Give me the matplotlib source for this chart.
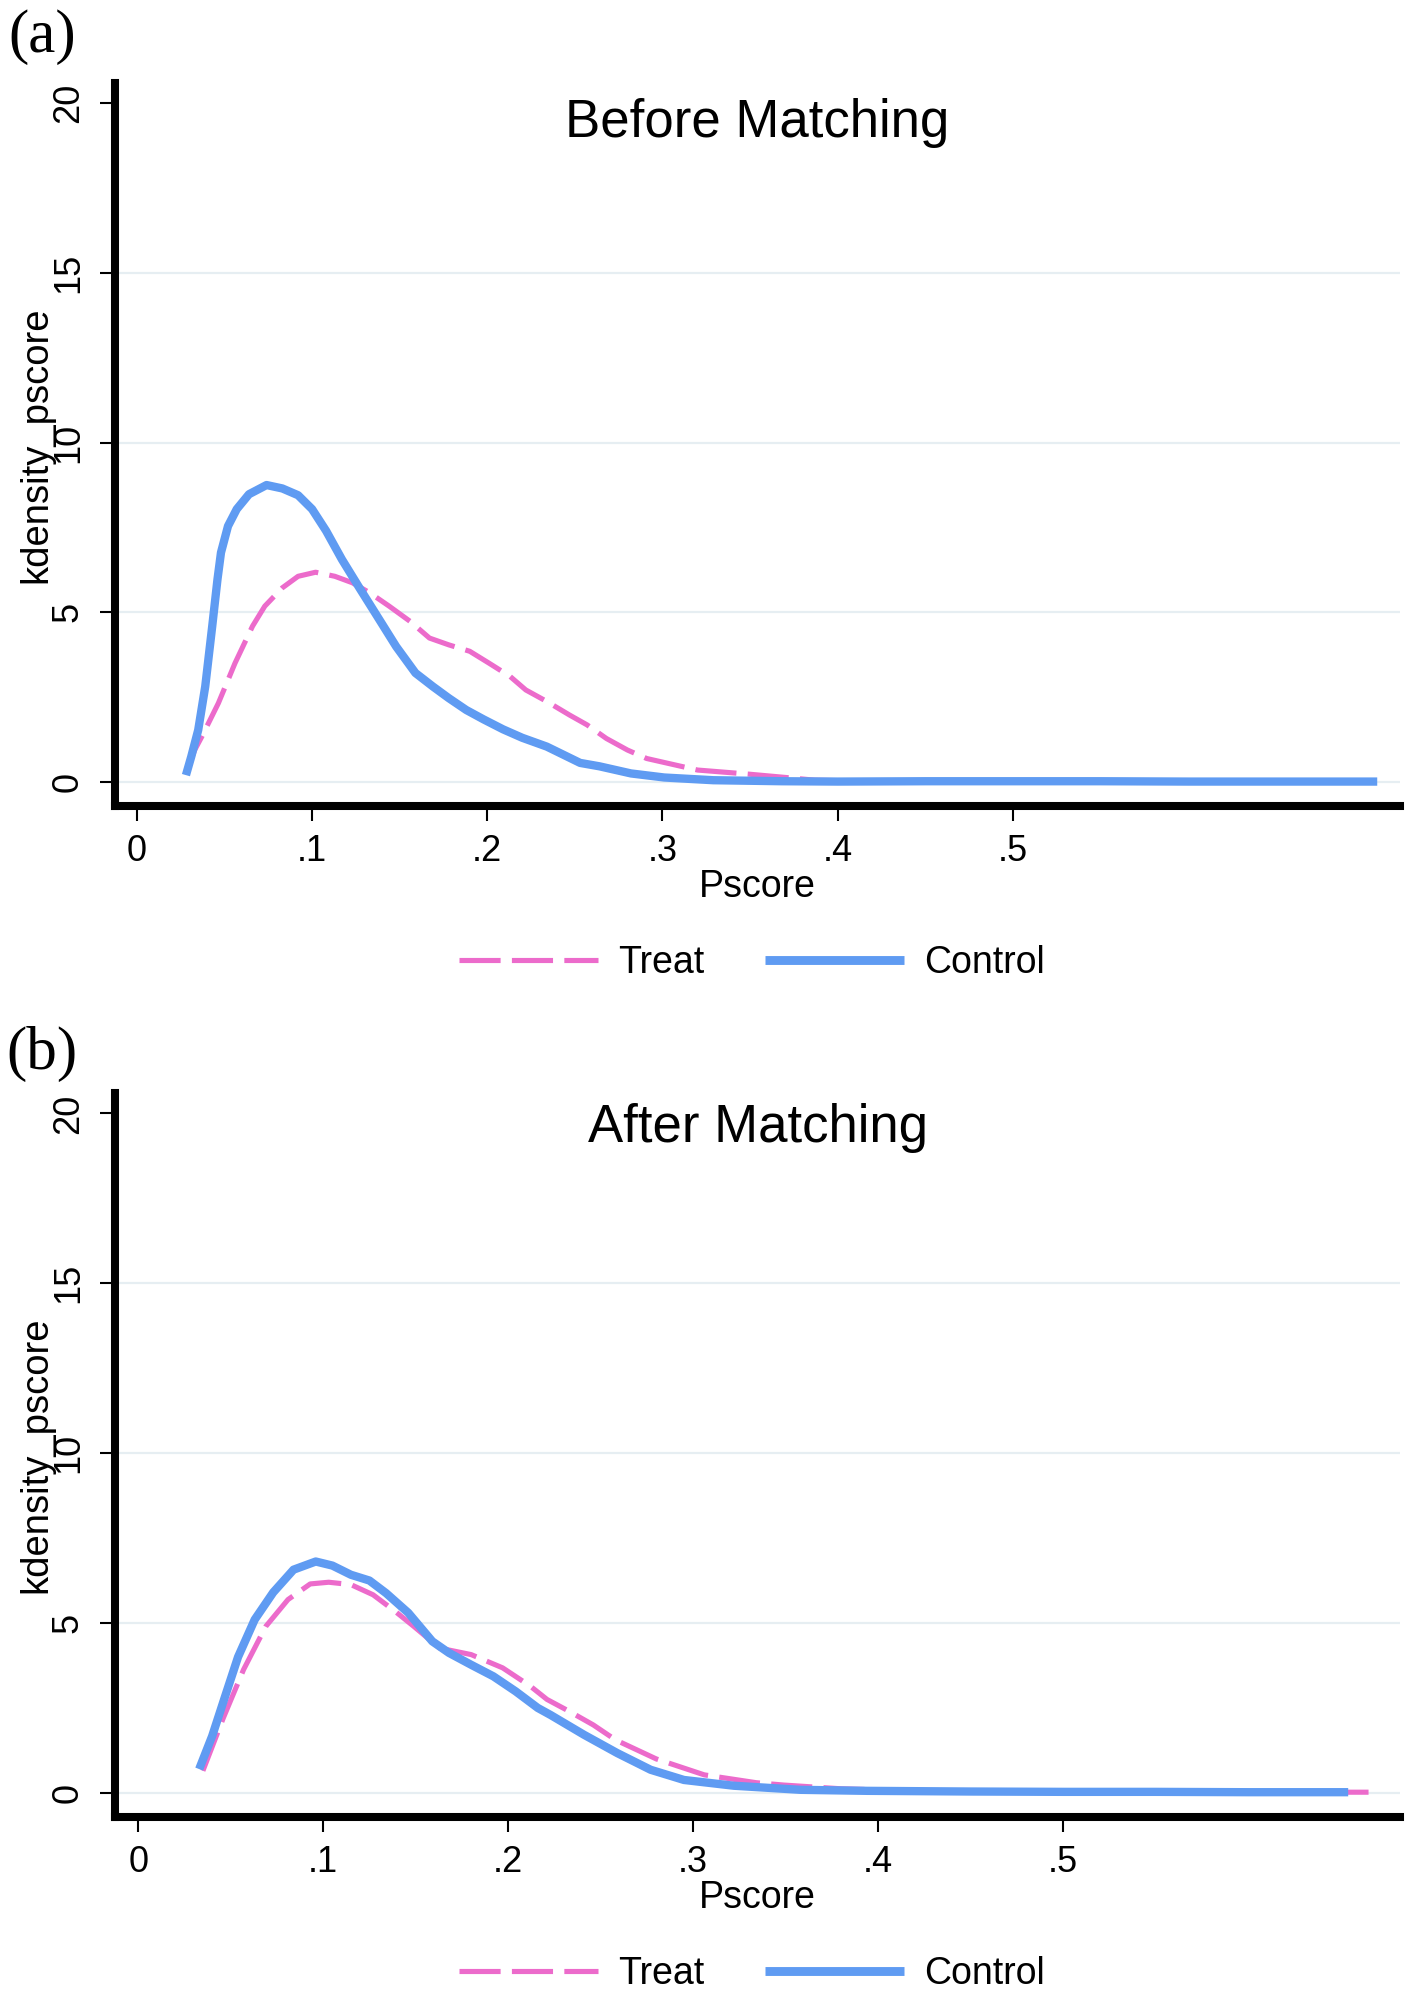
import matplotlib
matplotlib.use("Agg")
import matplotlib.pyplot as plt
from matplotlib.lines import Line2D

plt.rcParams["font.family"] = ["Liberation Sans", "DejaVu Sans"]

# --- data ----------------------------------------------------------------
# (a) before matching
before_ctrl_x = [0.028, 0.031, 0.035, 0.039, 0.043, 0.046, 0.048, 0.052, 0.057, 0.064,
                 0.074, 0.083, 0.092, 0.100, 0.108, 0.117, 0.127, 0.136, 0.148, 0.159,
                 0.169, 0.178, 0.188, 0.198, 0.209, 0.220, 0.234, 0.253, 0.264, 0.282,
                 0.301, 0.329, 0.368, 0.40, 0.45, 0.50, 0.55, 0.60, 0.65, 0.708]
before_ctrl_y = [0.20, 0.74, 1.53, 2.81, 4.59, 5.97, 6.76, 7.54, 8.04, 8.48,
                 8.75, 8.65, 8.45, 8.04, 7.40, 6.56, 5.72, 4.98, 3.99, 3.21,
                 2.81, 2.47, 2.12, 1.84, 1.55, 1.30, 1.04, 0.56, 0.46, 0.25,
                 0.13, 0.05, 0.02, 0.01, 0.02, 0.02, 0.02, 0.01, 0.01, 0.01]
before_treat_x = [0.028, 0.033, 0.037, 0.0465, 0.056, 0.066, 0.073, 0.083, 0.092, 0.102,
                  0.113, 0.123, 0.133, 0.144, 0.156, 0.167, 0.178, 0.190, 0.201, 0.213,
                  0.222, 0.234, 0.247, 0.257, 0.268, 0.280, 0.291, 0.320, 0.349, 0.377,
                  0.387, 0.42, 0.50, 0.60, 0.705]
before_treat_y = [0.25, 0.94, 1.33, 2.32, 3.50, 4.59, 5.18, 5.72, 6.06, 6.18,
                  6.06, 5.87, 5.57, 5.18, 4.73, 4.24, 4.04, 3.85, 3.50, 3.11,
                  2.71, 2.37, 1.97, 1.68, 1.28, 0.94, 0.69, 0.35, 0.23, 0.10,
                  0.05, 0.02, 0.01, 0.01, 0.01]

# (b) after matching
after_ctrl_x = [0.033, 0.040, 0.047, 0.054, 0.063, 0.073, 0.084, 0.096, 0.105, 0.115,
                0.125, 0.134, 0.146, 0.159, 0.168, 0.180, 0.192, 0.204, 0.216, 0.223,
                0.241, 0.259, 0.277, 0.295, 0.322, 0.358, 0.394, 0.45, 0.50, 0.55,
                0.60, 0.654]
after_ctrl_y = [0.70, 1.67, 2.84, 4.00, 5.10, 5.90, 6.57, 6.81, 6.69, 6.42,
                6.25, 5.88, 5.30, 4.46, 4.12, 3.77, 3.43, 2.99, 2.50, 2.29,
                1.71, 1.17, 0.68, 0.38, 0.21, 0.09, 0.06, 0.04, 0.03, 0.03,
                0.02, 0.02]
after_treat_x = [0.035, 0.046, 0.057, 0.069, 0.081, 0.093, 0.103, 0.115, 0.127, 0.139,
                 0.149, 0.163, 0.180, 0.197, 0.212, 0.221, 0.233, 0.246, 0.258, 0.280,
                 0.306, 0.334, 0.349, 0.38, 0.42, 0.50, 0.60, 0.665]
after_treat_y = [0.65, 2.20, 3.63, 4.90, 5.69, 6.15, 6.20, 6.13, 5.83, 5.34,
                 4.90, 4.26, 4.07, 3.68, 3.14, 2.75, 2.40, 2.00, 1.56, 1.00,
                 0.53, 0.30, 0.23, 0.12, 0.06, 0.03, 0.02, 0.02]

x_ticks = [0, 0.1, 0.2, 0.3, 0.4, 0.5]
x_ticklabels = ["0", ".1", ".2", ".3", ".4", ".5"]
y_ticks = [0, 5, 10, 15, 20]
y_ticklabels = ["0", "5", "10", "15", "20"]
grid_levels = [0, 5, 10, 15]

BLUE = "#5F9BF2"
PINK = "#EC6BCB"
GRID = "#E6EEF2"

W, H = 1417, 1997
fig = plt.figure(figsize=(W / 100, H / 100), dpi=100)


def fx(px):
    return px / W


def fy(py):
    return 1 - py / H


def panel(top_px, bottom_px, xmax, ctrl, treat, title, title_frac, tag, tag_y,
          xlab_y, leg_y):
    left_px, right_px = 115, 1400
    ax = fig.add_axes([fx(left_px), fy(bottom_px), fx(right_px - left_px),
                       (bottom_px - top_px) / H])
    ax.set_xlim(-0.0125, xmax)
    ax.set_ylim(-0.71, 20.6)

    for g in grid_levels:
        ax.axhline(g, color=GRID, lw=1.6, zorder=0)

    ax.plot(treat[0], treat[1], color=PINK, lw=3.7, dashes=(8.0, 2.2),
            solid_joinstyle="round", dash_joinstyle="round",
            dash_capstyle="butt", zorder=2)
    ax.plot(ctrl[0], ctrl[1], color=BLUE, lw=6.0, solid_capstyle="butt",
            solid_joinstyle="round", zorder=3)

    for s in ["top", "right"]:
        ax.spines[s].set_visible(False)
    for s in ["left", "bottom"]:
        ax.spines[s].set_linewidth(5.8)
        ax.spines[s].set_capstyle("projecting")

    ax.set_xticks(x_ticks)
    ax.set_xticklabels(x_ticklabels)
    ax.set_yticks(y_ticks)
    ax.set_yticklabels(y_ticklabels, rotation=90, va="center")
    ax.tick_params(direction="out", length=11, width=1.5, labelsize=26,
                   color="black")
    ax.tick_params(axis="x", pad=9)
    ax.tick_params(axis="y", pad=10)

    ax.text(0.5, title_frac, title, transform=ax.transAxes, ha="center",
            va="center", fontsize=38)

    fig.text(fx(36), fy((top_px + bottom_px) / 2), "kdensity_pscore",
             rotation=90, ha="center", va="center", fontsize=27.5)
    fig.text(fx(757), fy(xlab_y), "Pscore", ha="center", va="center",
             fontsize=27)
    fig.text(fx(42), fy(tag_y), tag, ha="center", va="center", fontsize=44,
             family=["Liberation Serif", "DejaVu Serif"])

    handles = [
        Line2D([], [], color=PINK, lw=3.7, dashes=(8.0, 2.2), dash_capstyle="butt"),
        Line2D([], [], color=BLUE, lw=6.4, solid_capstyle="butt"),
    ]
    fig.legend(handles, ["Treat", "Control"], loc="center",
               bbox_to_anchor=(fx(752), fy(leg_y)), ncol=2, frameon=False,
               fontsize=27, handlelength=3.7, handletextpad=0.55,
               columnspacing=1.6)
    return ax


panel(83, 806, 0.721, (before_ctrl_x, before_ctrl_y),
      (before_treat_x, before_treat_y), "Before Matching", 0.945, "(a)", 37,
      887, 963)
panel(1093, 1817, 0.682, (after_ctrl_x, after_ctrl_y),
      (after_treat_x, after_treat_y), "After Matching", 0.952, "(b)", 1054,
      1898, 1974)

fig.savefig("out.png", dpi=100, facecolor="white")
